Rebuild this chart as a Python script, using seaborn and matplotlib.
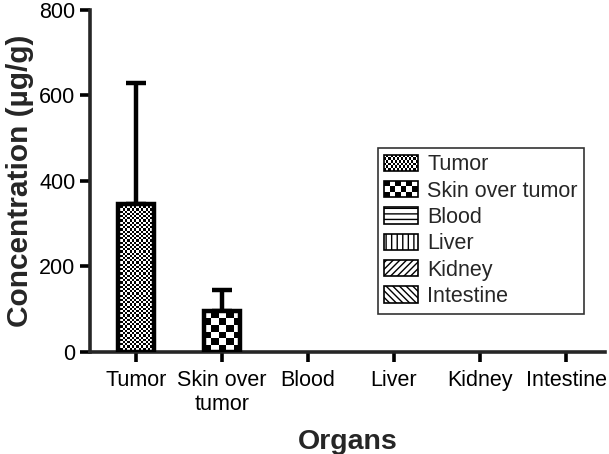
import numpy as np
import matplotlib
matplotlib.use("Agg")
import matplotlib.pyplot as plt
import seaborn as sns
from matplotlib.patches import Patch, Rectangle
from matplotlib.legend_handler import HandlerBase

# --- DATA ---
organs = ["Tumor", "Skin over\ntumor", "Blood", "Liver", "Kidney", "Intestine"]
legend_names = ["Tumor", "Skin over tumor", "Blood", "Liver", "Kidney", "Intestine"]
mean_conc = [345, 96, 0, 0, 0, 0]
sd_conc = [283, 48, 0, 0, 0, 0]

sns.set_theme(style="ticks")
plt.rcParams["font.family"] = ["Liberation Sans", "DejaVu Sans"]

fig = plt.figure(figsize=(6.09, 4.54), dpi=100)
ax = fig.add_axes([0.148, 0.225, 0.845, 0.753])

sns.barplot(x=organs, y=mean_conc, color="white", edgecolor="black",
            linewidth=3.2, width=0.42, errorbar=None, ax=ax, zorder=3)

# upward-only error bars
idx = [i for i, s in enumerate(sd_conc) if s > 0]
ax.errorbar(idx, [mean_conc[i] for i in idx],
            yerr=[[0] * len(idx), [sd_conc[i] for i in idx]],
            fmt="none", ecolor="black", elinewidth=3.2, capsize=7.5,
            capthick=3.2, zorder=2)

ax.set_ylim(0, 800)
ax.set_xlim(-0.53, 5.45)
ax.set_yticks([0, 200, 400, 600, 800])

# checker fills for the first two bars, hide empty bars
fig.canvas.draw()
cell_px = [2.2, 6.8]
for bar in ax.patches:
    if bar.get_height() == 0:
        bar.set_linewidth(0)
for bar, cpx in zip(ax.patches[:2], cell_px):
    bb = bar.get_window_extent()
    nx = max(1, int(round(bb.width / cpx)))
    ny = max(1, int(round(bb.height / cpx)))
    board = (np.indices((ny, nx)).sum(axis=0) % 2).astype(float)
    x0, y0 = bar.get_x(), bar.get_y()
    im = ax.imshow(board, cmap="gray", vmin=0, vmax=1, interpolation="nearest",
                   extent=[x0, x0 + bar.get_width(), y0, y0 + ny * cpx / bb.height * bar.get_height()],
                   origin="lower", aspect="auto", zorder=2.5)
    im.set_clip_path(bar)
    bar.set_facecolor("none")
ax.set_xlim(-0.53, 5.45)
ax.set_ylim(0, 800)

for s in ["top", "right"]:
    ax.spines[s].set_visible(False)
for s in ["left", "bottom"]:
    ax.spines[s].set_linewidth(2.6)
ax.tick_params(width=2.6, length=7, labelsize=15.5, colors="black")
ax.tick_params(axis="x", pad=6)

ax.set_ylabel("Concentration (µg/g)", fontsize=21.5, fontweight="bold", labelpad=4)
ax.set_xlabel("Organs", fontsize=20.5, fontweight="bold", labelpad=10)


class CheckerHandler(HandlerBase):
    def __init__(self, ncols, nrows):
        super().__init__()
        self.ncols = ncols
        self.nrows = nrows

    def create_artists(self, legend, orig_handle, xdescent, ydescent, width,
                       height, fontsize, trans):
        arts = []
        cw = width / self.ncols
        ch = height / self.nrows
        for r in range(self.nrows):
            for c in range(self.ncols):
                if (r + c) % 2 == 0:
                    arts.append(Rectangle((-xdescent + c * cw, -ydescent + r * ch), cw, ch,
                                          facecolor="black", edgecolor="none", transform=trans))
        arts.append(Rectangle((-xdescent, -ydescent), width, height, facecolor="none",
                              edgecolor="black", lw=1.2, transform=trans))
        return arts


hatches = [None, None, "---", "|||", "/////", "\\\\\\\\\\"]
handles = [Patch(facecolor="white", edgecolor="black", hatch=h, lw=1.2, label=n)
           for h, n in zip(hatches, legend_names)]
handler_map = {handles[0]: CheckerHandler(16, 6), handles[1]: CheckerHandler(6, 3)}
leg = ax.legend(handles=handles, handler_map=handler_map, loc="upper left",
                bbox_to_anchor=(0.559, 0.597), borderaxespad=0, fontsize=15.5,
                frameon=True, fancybox=False, edgecolor="black", handlelength=1.55,
                handleheight=0.8, handletextpad=0.45, labelspacing=0.25, borderpad=0.3)
leg.get_frame().set_linewidth(1.2)

fig.savefig("out.png", dpi=100)
